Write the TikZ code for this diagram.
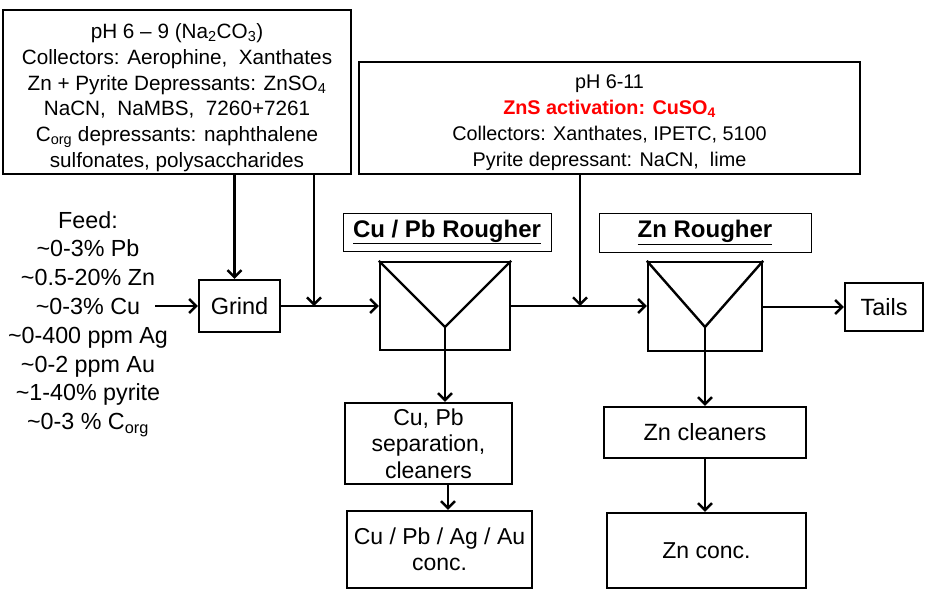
\documentclass[tikz,border=0pt]{standalone}
\usepackage{fontspec}
\setmainfont{Liberation Sans}
\usetikzlibrary{arrows.meta}
\begin{document}
\begin{tikzpicture}[x=1pt,y=-1pt,
  box/.style={draw, line width=2.4pt, inner sep=0pt, align=center},
  lbl/.style={draw, line width=0.8pt, inner sep=0pt, font=\fontsize{24}{28}\selectfont\bfseries},
  flow/.style={line width=2.6pt, -{Straight Barb[length=7pt,width=14pt,line width=2.4pt]}},
  vline/.style={line width=2.4pt}]
\useasboundingbox (0,0) rectangle (932,600);

\node[box, minimum width=348pt, minimum height=164pt, font=\fontsize{20.7}{25.7}\selectfont] (b1) at (177,92)
 {\raisebox{0pt}[26pt][0pt]{}pH 6 – 9 (Na\textsubscript{2}CO\textsubscript{3})\\
  Collectors: Aerophine,\ \ Xanthates\\
  Zn + Pyrite Depressants: ZnSO\textsubscript{4}\\
  NaCN,\ \ NaMBS,\ \ 7260+7261\\
  C\textsubscript{org} depressants: naphthalene\\
  sulfonates, polysaccharides};

\node[box, minimum width=501pt, minimum height=112pt, font=\fontsize{19.8}{26}\selectfont] (b2) at (609.5,118)
 {\raisebox{0pt}[23pt][0pt]{}pH 6-11\\
  {\color{red}\bfseries ZnS activation: CuSO\textsubscript{4}}\\
  Collectors: Xanthates, IPETC, 5100\\
  Pyrite depressant: NaCN,\ \ lime};

\node[align=center, font=\fontsize{23.3}{28.8}\selectfont] (feed) at (88,324)
 {Feed:\\
  \textasciitilde0-3\% Pb\\
  \textasciitilde0.5-20\% Zn\\
  \textasciitilde0-3\% Cu\\
  \textasciitilde0-400 ppm Ag\\
  \textasciitilde0-2 ppm Au\\
  \textasciitilde1-40\% pyrite\\
  \textasciitilde0-3 \% C\textsubscript{org}};
\coordinate (feedout) at (155,306);

\node[box, minimum width=81pt, minimum height=52pt, font=\fontsize{23.5}{26}\selectfont] (grind) at (239.5,306) {Grind};

\node[lbl, minimum width=208pt, minimum height=38pt] (lcu) at (447,232) {\underline{Cu / Pb Rougher}};
\node[lbl, minimum width=212pt, minimum height=39pt] (lzn) at (705,232.5) {\underline{Zn Rougher}};

\node[box, minimum width=130pt, minimum height=88pt] (cucell) at (445,306) {};
\coordinate (cuapex) at (445,327);
\node[box, minimum width=114pt, minimum height=89pt] (zncell) at (705,306.5) {};
\coordinate (znapex) at (705,327);

\node[box, minimum width=78pt, minimum height=48pt, font=\fontsize{23.5}{26}\selectfont] (tails) at (884,307) {Tails};

\node[box, minimum width=167pt, minimum height=81pt, font=\fontsize{23}{26.5}\selectfont] (cupb) at (428.5,443.5)
 {Cu, Pb\\ separation,\\ cleaners};
\node[box, minimum width=185pt, minimum height=77pt, font=\fontsize{23}{26.5}\selectfont] (cuconc) at (439.5,549.5)
 {Cu / Pb / Ag / Au\\ conc.};
\node[box, minimum width=202pt, minimum height=51pt, font=\fontsize{23.5}{26}\selectfont] (zncl) at (705,432.5) {Zn cleaners};
\node[box, minimum width=199pt, minimum height=75pt, font=\fontsize{23}{26}\selectfont] (znconc) at (706.5,550.5) {Zn conc.};

% V inside cells
\draw[vline, line join=miter] (cucell.north west) -- (cuapex) -- (cucell.north east);
\draw[vline] (cuapex) -- (cuapex |- cucell.south);
\draw[vline, line join=miter] (zncell.north west) -- (znapex) -- (zncell.north east);
\draw[vline] (znapex) -- (znapex |- zncell.south);

% junctions
\coordinate (j1) at (314,306);
\coordinate (j2) at (580,306);

% flows
\draw[flow] (feedout) -- (grind.west);
\draw[flow] ([xshift=-5pt]grind.north |- b1.south) -- ([xshift=-5pt]grind.north);
\draw[flow] (j1 |- b1.south) -- (j1);
\draw[flow] (grind.east) -- (cucell.west);
\draw[flow] (j2 |- b2.south) -- (j2);
\draw[flow] (cucell.east |- j2) -- (zncell.west |- j2);
\draw[flow] (zncell.east |- tails.west) -- (tails.west);
\draw[flow] (cuapex |- cucell.south) -- (cuapex |- cupb.north);
\draw[flow] ([xshift=3pt]cuapex |- cupb.south) -- ([xshift=3pt]cuapex |- cuconc.north);
\draw[flow] (znapex |- zncell.south) -- (znapex |- zncl.north);
\draw[flow] (znapex |- zncl.south) -- (znapex |- znconc.north);
\end{tikzpicture}
\end{document}
